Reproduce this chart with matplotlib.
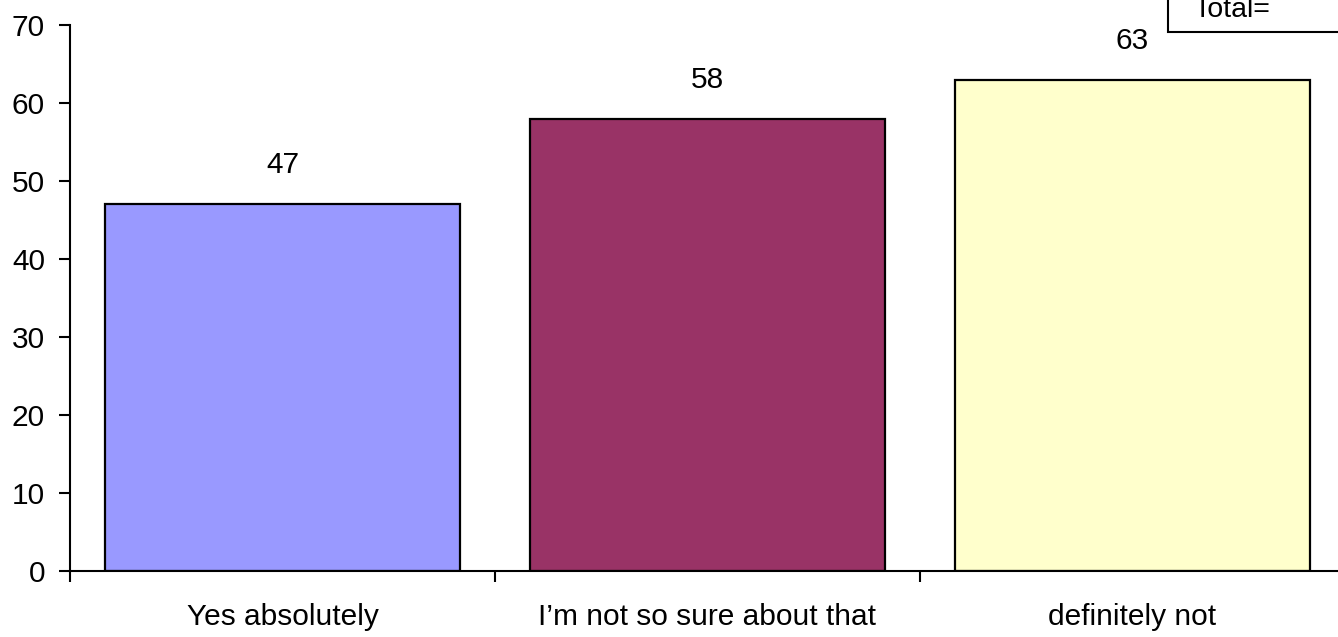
import matplotlib.pyplot as plt
from matplotlib.patches import Rectangle

categories = ["Yes absolutely", "I\u2019m not so sure about that", "definitely not"]
values = [47, 58, 63]
colors = ["#9999FF", "#993366", "#FFFFCC"]
yticks = [0, 10, 20, 30, 40, 50, 60, 70]

plt.rcParams['font.family'] = ['Liberation Sans', 'DejaVu Sans']

W, H = 1338, 637
fig = plt.figure(figsize=(W / 100, H / 100), dpi=100)
# axes spans x 70..1345 px, y 25..571 px
ax = fig.add_axes([70 / W, (H - 571) / H, 1275 / W, 546 / H])

x = range(len(categories))
ax.bar(x, values, width=0.835, color=colors, edgecolor="black", linewidth=1.6)
for xi, v in zip(x, values):
    ax.annotate(str(v), (xi, v), xytext=(0, 18), textcoords="offset points",
                ha="center", va="bottom", fontsize=21.5)

ax.set_xlim(-0.5, len(categories) - 0.5)
ax.set_ylim(0, 70)
ax.set_yticks(yticks)
ax.tick_params(axis="y", labelsize=21.5, length=8, width=1.5, direction="out", pad=10)

# category labels centred, ticks at boundaries
ax.set_xticks([i - 0.5 for i in range(len(categories) + 1)])
ax.set_xticklabels([])
ax.set_xticks(list(x), minor=True)
ax.set_xticklabels(categories, minor=True, fontsize=21.5)
ax.tick_params(axis="x", which="major", length=8, width=1.5, direction="out")
ax.tick_params(axis="x", which="minor", length=0, pad=23)

for s in ["top", "right"]:
    ax.spines[s].set_visible(False)
for s in ["left", "bottom"]:
    ax.spines[s].set_linewidth(1.5)

# "Total=" box in the top right corner
fig.patches.append(Rectangle((1168 / W, (H - 32) / H), 200 / W, 60 / H,
                             transform=fig.transFigure, facecolor="white",
                             edgecolor="black", linewidth=1.5))
fig.text(1193 / W, (H - 17) / H, "Total=", fontsize=20.5, ha="left", va="baseline")

fig.savefig("out.png", dpi=100)
